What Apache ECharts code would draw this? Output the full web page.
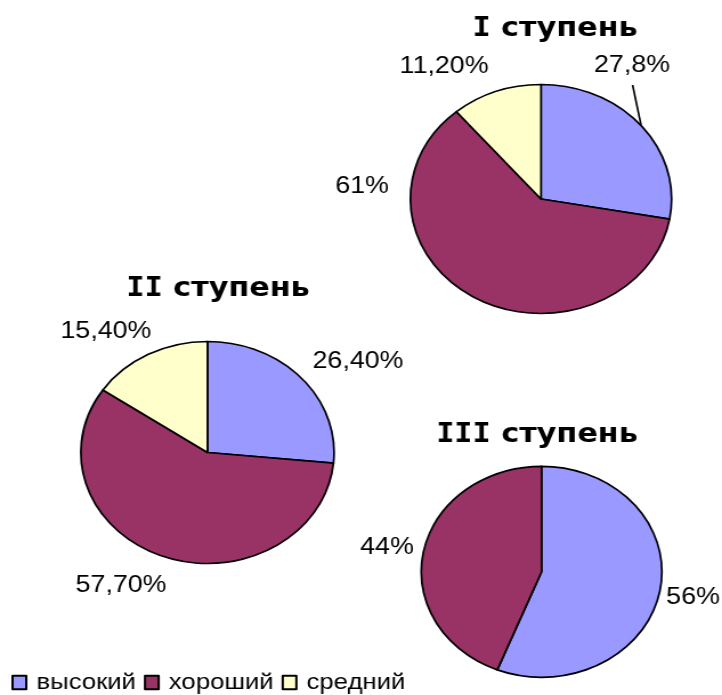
<!DOCTYPE html>
<html><head><meta charset="utf-8">
<script src="https://cdn.jsdelivr.net/npm/echarts@6/dist/echarts.min.js"></script>
<style>
html,body{margin:0;padding:0;background:#fff;overflow:hidden;}
#wrap{width:722px;height:695px;overflow:hidden;position:relative;}
#chart{width:633px;height:695px;transform:scaleX(1.14060);transform-origin:0 0;}
</style></head><body>
<div id="wrap"><div id="chart"></div></div>
<script>
// ---- data ----
const categories = ['высокий', 'хороший', 'средний'];
const stageNumerals = ['I', 'II', 'III'];
const stageWord = ' ступень';
const stage1Values = [27.8, 61, 11.2];
const stage2Values = [26.4, 57.7, 15.4];
const stage3Values = [56, 44];
const stage1Labels = ['27,8%', '61%', '11,20%'];
const stage2Labels = ['26,40%', '57,70%', '15,40%'];
const stage3Labels = ['56%', '44%'];

// ---- styles / layout (chart coords; page is stretched horizontally) ----
const colors = ['#9999FF', '#993366', '#FFFFCC'];
const layout = [
  { center: [474.3, 199], r: 114.5, title: [486.6, 29],
    labelPos: [[554.1, 66], [317.4, 187], [389.3, 66.5]], leader: [true, false, false] },
  { center: [181.9, 452.5], r: 111, title: [191.1, 289],
    labelPos: [[313.9, 362], [106.1, 586], [92.9, 332]], leader: [false, false, false] },
  { center: [474.8, 571.8], r: 105.5, title: [470.8, 435],
    labelPos: [[607.6, 598], [339.3, 548]], leader: [false, false] }
];
const valuesList = [stage1Values, stage2Values, stage3Values];
const labelsList = [stage1Labels, stage2Labels, stage3Labels];

const chart = echarts.init(document.getElementById('chart'), null, { renderer: 'canvas' });

const series = valuesList.map((vals, si) => {
  const L = layout[si];
  const labels = labelsList[si];
  return {
    type: 'pie',
    center: L.center,
    radius: L.r,
    startAngle: 90,
    clockwise: true,
    avoidLabelOverlap: false,
    animation: false,
    silent: true,
    emphasis: { disabled: true },
    itemStyle: { borderColor: '#000', borderWidth: 1.7 },
    label: {
      show: true, position: 'outside',
      formatter: p => labels[p.dataIndex],
      fontFamily: 'Liberation Sans', fontSize: 23.5, color: '#000'
    },
    labelLine: { show: false, length: 10, length2: 5, lineStyle: { color: '#000', width: 1.6 } },
    labelLayout: function (p) {
      const pos = L.labelPos[p.dataIndex];
      const res = { x: pos[0], y: pos[1], align: 'center', verticalAlign: 'middle' };
      if (L.leader[p.dataIndex] && p.labelLinePoints) {
        const p0 = p.labelLinePoints[0];
        const p2 = [pos[0] + 0.5, pos[1] + 19];
        res.labelLinePoints = [p0, [(p0[0] + p2[0]) / 2, (p0[1] + p2[1]) / 2], p2];
      }
      return res;
    },
    data: vals.map((v, i) => ({
      name: categories[i], value: v,
      itemStyle: { color: colors[i] },
      labelLine: { show: L.leader[i] }
    }))
  };
});

const graphic = stageNumerals.map((n, si) => ({
  type: 'text',
  x: layout[si].title[0], y: layout[si].title[1],
  silent: true,
  style: {
    text: '{n|' + n + '}{t|' + stageWord + '}',
    align: 'center', verticalAlign: 'middle',
    rich: {
      n: { fontFamily: 'DejaVu Sans Mono', fontWeight: 'bold', fontSize: 26.5, fill: '#000' },
      t: { fontFamily: 'DejaVu Sans', fontWeight: 'bold', fontSize: 26.5, fill: '#000' }
    }
  }
}));

chart.setOption({
  backgroundColor: '#fff',
  animation: false,
  legend: {
    data: categories.map((name, i) => ({
      name: name, icon: 'rect',
      itemStyle: { color: colors[i], borderColor: '#000', borderWidth: 2 }
    })),
    left: 10, top: 671, padding: 0,
    icon: 'rect', itemWidth: 12, itemHeight: 13.5, itemGap: 7,
    symbolKeepAspect: false,
    selectedMode: false,
    textStyle: { fontFamily: 'Liberation Sans', fontSize: 22.5, color: '#000', padding: [0, 0, 0, 4] }
  },
  graphic: graphic,
  series: series
});
</script>
</body></html>
